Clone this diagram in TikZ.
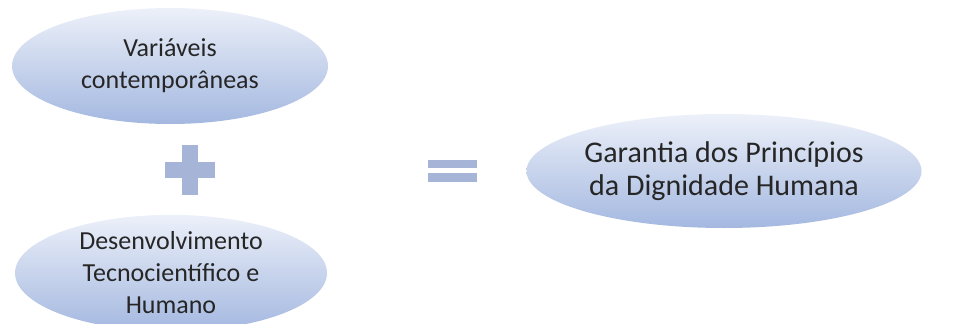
\documentclass[tikz,border=0pt]{standalone}
\usepackage{fontspec}
\setmainfont{Carlito}
\usetikzlibrary{shapes.geometric,positioning}

\definecolor{ovaltop}{RGB}{236,240,249}
\definecolor{ovalbottom}{RGB}{164,184,224}
\definecolor{signblue}{RGB}{166,180,216}
\definecolor{textgray}{RGB}{38,38,38}

\begin{document}
\begin{tikzpicture}[x=1pt, y=-1pt,
    oval/.style={ellipse, inner sep=0pt, top color=ovaltop, bottom color=ovalbottom,
        align=center, text=textgray, font=\fontsize{26}{32}\selectfont},
    bigoval/.style={oval, font=\fontsize{30}{33}\selectfont},
    sign/.style={fill=signblue}
]
\useasboundingbox (0,0) rectangle (954,324);

\node[oval, minimum width=316pt, minimum height=116pt] (var) at (170,66) {Variáveis\\contemporâneas};
\node[oval, minimum width=312pt, minimum height=112pt] (des) at (171,273) {Desenvolvimento\\Tecnocientífico e\\Humano};
\node[bigoval, minimum width=392pt, minimum height=114pt] (gar) at (724,171) {Garantia dos Princípios\\da Dignidade Humana};

% plus and equals signs
\fill[sign] (182,145) rectangle (198,195);
\fill[sign] (165,162) rectangle (215,178);
\fill[sign] (428,160) rectangle (477,168);
\fill[sign] (428,173) rectangle (477,182);
\end{tikzpicture}
\end{document}
